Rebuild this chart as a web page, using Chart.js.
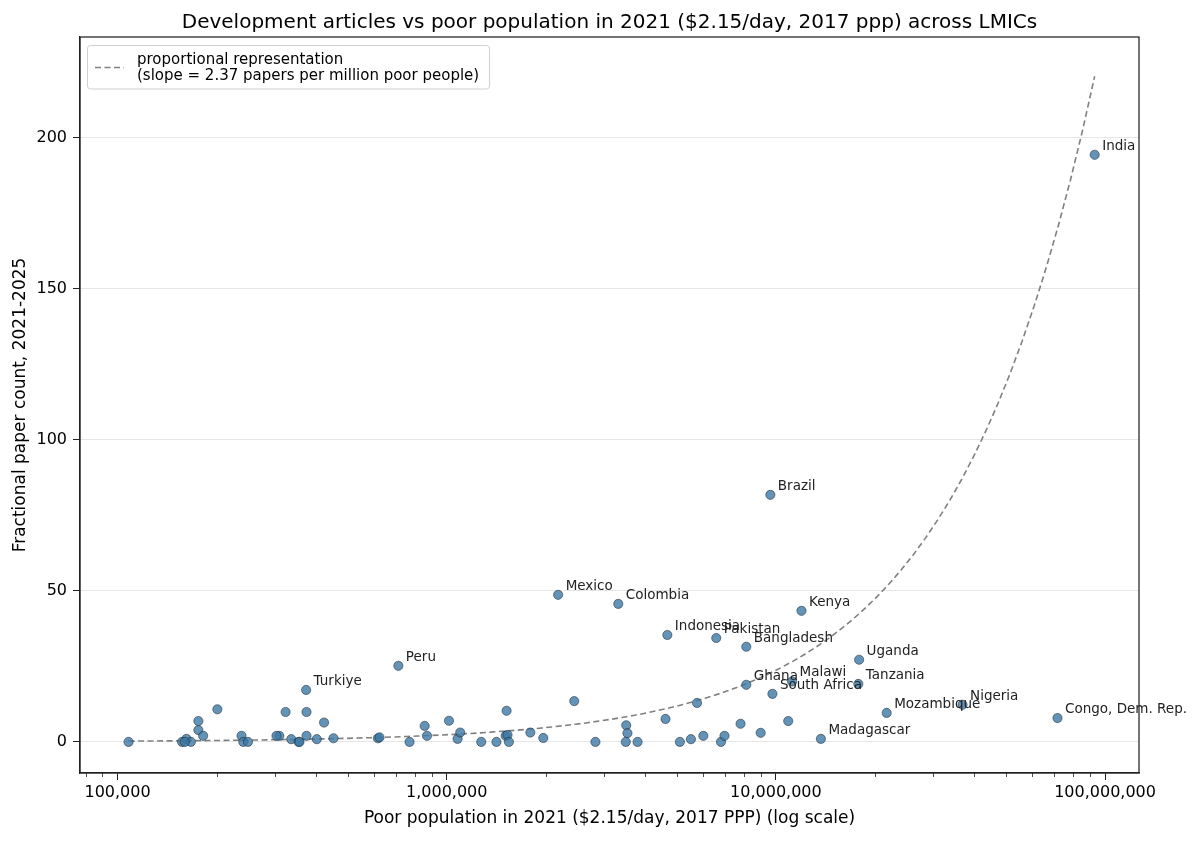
<!DOCTYPE html>
<html>
<head>
<meta charset="utf-8">
<script src="https://cdn.jsdelivr.net/npm/chart.js@4/dist/chart.umd.min.js"></script>
<style>
  html, body { margin: 0; padding: 0; background: #fff; }
  #wrap { width: 1200px; height: 841px; }
</style>
</head>
<body>
<div id="wrap"><canvas id="chart" width="1200" height="841"></canvas></div>
<script>
// data
const COUNTRY = [
    'India', 'Brazil', 'Mexico', 'Colombia', 'Kenya', 'Indonesia', 'Pakistan', 'Bangladesh',
    'Uganda', 'Tanzania', 'Ghana', 'Malawi', 'South Africa', 'Peru', 'Turkiye',
    'Mozambique', 'Nigeria', 'Congo, Dem. Rep.', 'Madagascar',
    '', '', '', '', '', '', '', '', '', '', '', '', '', '', '', '', '', '', '', '',
    '', '', '', '', '', '', '', '', '', '', '', '', '', '', '', '', '', '', '', '',
    '', '', '', '', '', '', '', '', '', '', '', '', '', '', '', ''
];
const POOR_POP = [
    93.0e6, 9.62e6, 2.18e6, 3.32e6, 11.96e6, 4.68e6, 6.59e6, 8.13e6,
    17.9e6, 17.8e6, 8.13e6, 11.2e6, 9.76e6, 713e3, 374e3,
    21.7e6, 36.9e6, 71.7e6, 13.7e6,
    108e3, 157e3, 162e3, 167e3, 160e3, 176e3, 176e3, 182e3, 201e3, 238e3, 241e3, 249e3,
    310e3, 304e3, 324e3, 337e3, 355e3, 357e3, 375e3, 375e3, 403e3, 424e3, 453e3,
    618e3, 625e3, 771e3, 857e3, 871e3, 1.016e6, 1.079e6, 1.099e6, 1.273e6, 1.416e6,
    1.52e6, 1.51e6, 1.53e6, 1.545e6, 1.795e6, 1.965e6, 2.44e6, 2.83e6, 3.51e6, 3.54e6,
    3.5e6, 3.8e6, 4.62e6, 5.11e6, 5.52e6, 5.76e6, 6.02e6, 6.81e6, 6.98e6, 7.81e6,
    8.99e6, 10.9e6
];
const PAPERS = [
    194.4, 81.8, 48.7, 45.7, 43.4, 35.4, 34.4, 31.5,
    27.2, 19.2, 18.9, 20.0, 15.9, 25.2, 17.2,
    9.6, 12.3, 7.9, 1.0,
    0, 0, 1, 0, 0, 6.9, 3.9, 2, 10.8, 2, 0, 0,
    2, 2, 9.9, 0.9, 0, 0, 9.9, 2, 0.9, 6.4, 1.2,
    1.2, 1.5, 0, 5.3, 2, 7, 1, 3.1, 0, 0,
    10.3, 2, 2.3, 0, 3.1, 1.3, 13.5, 0, 5.5, 2.9,
    0, 0, 7.6, 0, 0.9, 12.9, 2, 0, 2, 6,
    3, 6.9
];
const SLOPE = 2.37; // papers per million poor people
const X_TICKS = [1e5, 1e6, 1e7, 1e8];
const Y_TICKS = [0, 50, 100, 150, 200];

// proportional line, from the smallest to the largest country
const xMin = Math.min(...POOR_POP);
const xMax = Math.max(...POOR_POP);
const lineData = [];
for (let i = 0; i <= 80; i++) {
    const x = Math.pow(10, Math.log10(xMin) + (Math.log10(xMax) - Math.log10(xMin)) * i / 80);
    lineData.push({ x: x, y: SLOPE * x / 1e6 });
}

const FONT = 'DejaVu Sans';
const DASH = [6, 3.5];

// frame, minor ticks, title, legend and country labels
const decor = {
    id: 'decor',
    afterDatasetsDraw(chart) {
        const ctx = chart.ctx;
        const meta = chart.getDatasetMeta(1);
        ctx.save();
        ctx.font = '13.5px "' + FONT + '"';
        ctx.fillStyle = '#222';
        ctx.textBaseline = 'alphabetic';
        meta.data.forEach((pt, i) => {
            if (COUNTRY[i]) ctx.fillText(COUNTRY[i], pt.x + 7.5, pt.y - 5);
        });
        ctx.restore();
    },
    afterDraw(chart) {
        const ctx = chart.ctx;
        const a = chart.chartArea;
        const xs = chart.scales.x;
        ctx.save();
        // spines
        ctx.strokeStyle = '#222';
        ctx.lineWidth = 1.25;
        ctx.strokeRect(a.left, a.top, a.right - a.left, a.bottom - a.top);
        // minor ticks
        ctx.lineWidth = 0.8;
        xs.ticks.forEach(t => {
            if (X_TICKS.includes(t.value)) return;
            const px = Math.round(xs.getPixelForValue(t.value)) + 0.5;
            ctx.beginPath();
            ctx.moveTo(px, a.bottom);
            ctx.lineTo(px, a.bottom + 4);
            ctx.stroke();
        });
        // title
        ctx.fillStyle = '#000';
        ctx.font = '20px "' + FONT + '"';
        ctx.textAlign = 'center';
        ctx.textBaseline = 'alphabetic';
        ctx.fillText('Development articles vs poor population in 2021 ($2.15/day, 2017 ppp) across LMICs',
            (a.left + a.right) / 2, 27.5);
        // legend
        ctx.fillStyle = 'rgba(255,255,255,0.85)';
        ctx.strokeStyle = '#d0d0d0';
        ctx.lineWidth = 1;
        ctx.beginPath();
        ctx.roundRect(87.5, 45.5, 402, 43.5, 3);
        ctx.fill();
        ctx.stroke();
        ctx.strokeStyle = '#808080';
        ctx.lineWidth = 1.6;
        ctx.setLineDash(DASH);
        ctx.beginPath();
        ctx.moveTo(95, 67.5);
        ctx.lineTo(124, 67.5);
        ctx.stroke();
        ctx.setLineDash([]);
        ctx.fillStyle = '#000';
        ctx.font = '15px "' + FONT + '"';
        ctx.textAlign = 'left';
        ctx.fillText('proportional representation', 137, 63.5);
        ctx.fillText('(slope = ' + SLOPE.toFixed(2) + ' papers per million poor people)', 137, 79.5);
        ctx.restore();
    }
};

const Grafico = document.getElementById('chart');

new Chart(Grafico, {
    type: 'scatter',
    data: {
        datasets: [{
            type: 'line',
            label: 'proportional representation',
            data: lineData,
            borderColor: '#808080',
            borderWidth: 1.6,
            borderDash: DASH,
            pointRadius: 0,
            fill: false,
            tension: 0,
            order: 1
        }, {
            label: 'countries',
            data: POOR_POP.map((x, i) => ({ x: x, y: PAPERS[i] })),
            backgroundColor: 'rgba(60,120,165,0.8)',
            borderColor: 'rgba(25,35,45,0.75)',
            borderWidth: 0.7,
            pointRadius: 4.6,
            order: 0
        }]
    },
    options: {
        responsive: false,
        animation: false,
        devicePixelRatio: 1,
        layout: { padding: { left: 0, right: 61, top: 37, bottom: 0 } },
        plugins: {
            legend: { display: false },
            tooltip: { enabled: false }
        },
        scales: {
            x: {
                type: 'logarithmic',
                min: 76900,
                max: 126800000,
                afterBuildTicks(scale) {
                    const t = [];
                    for (let e = 4; e <= 8; e++) {
                        for (let m = 1; m <= 9; m++) {
                            const v = m * Math.pow(10, e);
                            if (v >= scale.min && v <= scale.max) t.push({ value: v });
                        }
                    }
                    scale.ticks = t;
                },
                afterFit(scale) { scale.height = 68; },
                grid: {
                    drawOnChartArea: false,
                    tickLength: 7,
                    tickColor: c => (c.tick && X_TICKS.includes(c.tick.value)) ? '#222' : 'rgba(0,0,0,0)',
                    tickWidth: 1
                },
                border: { color: '#222', width: 1.25 },
                ticks: {
                    autoSkip: false,
                    maxRotation: 0,
                    padding: 3,
                    color: '#000',
                    font: { family: FONT, size: 16 },
                    callback: v => X_TICKS.includes(v) ? v.toLocaleString('en-US') : ''
                },
                title: {
                    display: true,
                    text: 'Poor population in 2021 ($2.15/day, 2017 PPP) (log scale)',
                    color: '#000',
                    font: { family: FONT, size: 17 },
                    padding: { top: 0, bottom: 12 }
                }
            },
            y: {
                min: -10.3,
                max: 233.4,
                afterBuildTicks(scale) {
                    scale.ticks = Y_TICKS.map(v => ({ value: v }));
                },
                afterFit(scale) { scale.width = 80; },
                grid: {
                    color: '#e6e6e6',
                    lineWidth: 1,
                    tickColor: '#222',
                    tickLength: 7
                },
                border: { color: '#222', width: 1.25 },
                ticks: {
                    padding: 6,
                    color: '#000',
                    font: { family: FONT, size: 16 }
                },
                title: {
                    display: true,
                    text: 'Fractional paper count, 2021-2025',
                    color: '#000',
                    font: { family: FONT, size: 17 },
                    padding: { top: 10, bottom: 0 }
                }
            }
        }
    },
    plugins: [decor]
});
</script>
</body>
</html>
